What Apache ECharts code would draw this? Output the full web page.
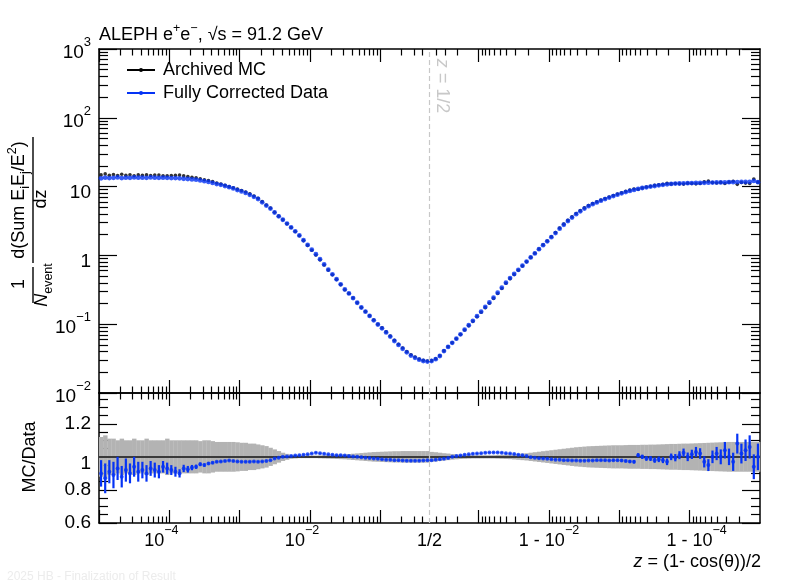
<!DOCTYPE html>
<html><head><meta charset="utf-8">
<script src="https://cdn.jsdelivr.net/npm/echarts@6/dist/echarts.min.js"></script>
<style>html,body{margin:0;padding:0;background:#fff}#c{width:810px;height:587px}</style>
</head><body><div id="c"></div>
<script>
// ---------------- data ----------------
const N_BINS = 80;          // bins per half (log-uniform in z and in 1-z)
const Z_MIN = 1e-5;

// Fully corrected data, z < 1/2 (left half), bin by bin
const leftData = [13.2,13.5,13.3,13.4,13.6,13.3,13.5,13.4,13.6,13.5,
 13.5,13.4,13.6,13.5,13.4,13.5,13.4,13.3,13.3,13.2,
 13.0,12.9,12.7,12.6,12.3,12.0,11.7,11.3,10.9,10.6,
 10.2,9.8,9.4,8.9,8.5,8.1,7.6,7.1,6.6,5.9,
 5.3,4.8,4.2,3.7,3.3,2.9,2.55,2.24,1.95,1.66,
 1.42,1.21,1.04,0.88,0.74,0.62,0.53,0.45,0.38,0.32,
 0.28,0.24,0.205,0.175,0.152,0.132,0.114,0.099,0.087,0.076,
 0.066,0.057,0.050,0.044,0.039,0.035,0.0325,0.0305,0.0292,0.0286];
// Fully corrected data, z > 1/2 (right half), from 1-z = 1/2 down to 1e-5
const rightData = [0.0292,0.0310,0.0345,0.0407,0.0468,0.0537,0.0617,0.0713,0.0832,0.0966,
 0.112,0.131,0.152,0.178,0.207,0.243,0.287,0.339,0.402,0.468,
 0.537,0.617,0.708,0.813,0.933,1.07,1.23,1.41,1.60,1.84,
 2.11,2.45,2.79,3.16,3.55,3.98,4.37,4.79,5.19,5.56,
 5.89,6.24,6.58,6.92,7.28,7.62,7.98,8.32,8.65,8.95,
 9.25,9.55,9.77,10.0,10.2,10.45,10.6,10.8,10.95,11.05,
 11.1,11.15,11.2,11.25,11.3,11.3,11.35,11.4,11.45,11.5,
 11.5,11.55,11.6,11.6,11.65,11.7,11.7,11.75,12.1,11.6];
// Archived MC
const leftMC = [14.8,15.3,14.6,15.0,14.5,15.1,14.6,14.9,14.4,14.8,
 14.6,14.9,14.5,14.7,14.7,14.4,14.4,14.5,14.6,14.7,
 14.3,14.0,13.7,13.4,13.0,12.6,12.25,11.8,11.3,10.9,
 10.45,10.0,9.64,9.18,8.76,8.35,7.84,7.3,6.77,6.05,
 5.41,4.87,4.24,3.72,3.3,2.89,2.54,2.22,1.93,1.64,
 1.40,1.19,1.015,0.861,0.727,0.611,0.524,0.446,0.376,0.317,
 0.279,0.240,0.205,0.175,0.153,0.133,0.115,0.100,0.0883,0.0773,
 0.0672,0.0582,0.0511,0.0450,0.0399,0.0359,0.0333,0.0312,0.0298,0.0292];
const rightMC = [0.0296,0.0314,0.0348,0.0410,0.0469,0.0537,0.0614,0.0707,0.0822,0.0952,
 0.110,0.128,0.149,0.174,0.202,0.237,0.279,0.331,0.393,0.459,
 0.528,0.609,0.701,0.809,0.935,1.075,1.24,1.424,1.62,1.868,
 2.146,2.495,2.847,3.224,3.63,4.07,4.473,4.903,5.307,5.685,
 6.01,6.367,6.721,7.076,7.429,7.776,8.16,8.533,8.899,9.227,
 9.158,9.55,9.869,10.1,10.41,10.61,10.82,11.13,10.95,11.11,
 10.99,10.88,11.2,11.08,10.97,11.08,11.7,12.0,11.45,11.27,
 11.5,11.1,11.6,11.96,10.79,11.47,11.25,11.08,12.87,11.6];
// ratio panel: blue points and their errors
const leftRatio = [0.90,0.87,0.91,0.89,0.93,0.88,0.92,0.90,0.94,0.91,
 0.92,0.90,0.93,0.92,0.91,0.94,0.93,0.92,0.91,0.90,
 0.93,0.925,0.935,0.94,0.955,0.95,0.96,0.965,0.97,0.972,
 0.975,0.978,0.975,0.972,0.97,0.97,0.97,0.972,0.97,0.972,
 0.975,0.98,0.99,0.995,1.0,1.002,1.005,1.008,1.01,1.012,
 1.015,1.02,1.025,1.022,1.018,1.015,1.012,1.01,1.01,1.008,
 1.005,1.002,1.0,0.998,0.995,0.993,0.99,0.988,0.985,0.983,
 0.982,0.98,0.979,0.978,0.977,0.976,0.976,0.977,0.978,0.98];
const rightRatio = [0.98,0.982,0.985,0.988,0.993,1.0,1.005,1.008,1.012,1.015,
 1.018,1.02,1.022,1.025,1.026,1.027,1.027,1.025,1.022,1.02,
 1.017,1.013,1.01,1.005,0.998,0.995,0.992,0.99,0.988,0.985,
 0.983,0.982,0.98,0.98,0.978,0.978,0.977,0.977,0.978,0.978,
 0.98,0.98,0.979,0.978,0.98,0.98,0.978,0.975,0.972,0.97,
 1.01,1.0,0.99,0.99,0.98,0.985,0.98,0.97,1.0,0.995,
 1.01,1.025,1.0,1.015,1.03,1.02,0.97,0.95,1.0,1.02,
 1.0,1.04,1.0,0.97,1.08,1.02,1.04,1.06,0.94,1.0];
const leftRatioErr = [0.08,0.09,0.07,0.08,0.07,0.065,0.07,0.06,0.06,0.06,
 0.05,0.05,0.045,0.045,0.04,0.035,0.035,0.03,0.03,0.025,
 0.022,0.02,0.016,0.013,0.011,0.01,0.008,0.007,0.006,0.006,
 0.005,0.005,0.005,0.005,0.005,0.005,0.005,0.005,0.005,0.005,
 0.004,0.004,0.004,0.004,0.004,0.004,0.004,0.004,0.004,0.004,
 0.004,0.004,0.004,0.004,0.004,0.004,0.004,0.004,0.004,0.004,
 0.004,0.004,0.004,0.004,0.004,0.004,0.004,0.004,0.004,0.004,
 0.004,0.004,0.004,0.004,0.004,0.004,0.004,0.004,0.004,0.004];
const rightRatioErr = [0.004,0.004,0.004,0.004,0.004,0.004,0.004,0.004,0.004,0.004,
 0.004,0.004,0.004,0.004,0.004,0.004,0.004,0.004,0.004,0.004,
 0.004,0.004,0.004,0.004,0.004,0.004,0.004,0.004,0.004,0.004,
 0.004,0.004,0.004,0.004,0.004,0.004,0.004,0.004,0.004,0.004,
 0.005,0.005,0.006,0.006,0.007,0.007,0.008,0.008,0.009,0.01,
 0.012,0.013,0.014,0.015,0.016,0.017,0.018,0.02,0.02,0.022,
 0.024,0.025,0.026,0.028,0.03,0.032,0.034,0.036,0.038,0.04,
 0.045,0.05,0.05,0.055,0.06,0.06,0.065,0.07,0.075,0.08];
// grey MC uncertainty band (half width around 1)
const leftBand = [0.12,0.13,0.11,0.11,0.10,0.11,0.10,0.10,0.11,0.10,
 0.10,0.11,0.10,0.10,0.10,0.10,0.11,0.10,0.10,0.10,
 0.10,0.10,0.10,0.10,0.095,0.10,0.10,0.095,0.09,0.09,
 0.09,0.09,0.09,0.088,0.085,0.085,0.08,0.08,0.075,0.07,
 0.065,0.055,0.045,0.035,0.025,0.018,0.012,0.01,0.008,0.008,
 0.008,0.008,0.008,0.009,0.01,0.011,0.012,0.013,0.014,0.015,
 0.017,0.019,0.021,0.023,0.025,0.027,0.029,0.03,0.031,0.032,
 0.033,0.034,0.034,0.035,0.035,0.035,0.035,0.035,0.035,0.035];
const rightBand = [0.03,0.028,0.025,0.022,0.02,0.017,0.015,0.013,0.012,0.011,
 0.01,0.01,0.01,0.01,0.01,0.01,0.011,0.012,0.013,0.014,
 0.016,0.018,0.02,0.022,0.025,0.028,0.031,0.034,0.037,0.04,
 0.043,0.046,0.049,0.052,0.055,0.058,0.06,0.062,0.064,0.065,
 0.066,0.067,0.068,0.069,0.07,0.07,0.07,0.071,0.072,0.072,
 0.072,0.073,0.073,0.074,0.074,0.075,0.076,0.077,0.078,0.078,
 0.079,0.08,0.08,0.081,0.082,0.083,0.084,0.085,0.086,0.087,
 0.088,0.089,0.09,0.09,0.09,0.09,0.09,0.09,0.09,0.09];

const yTickLabels = {'3':['10','3'],'2':['10','2'],'1':['10',''],'0':['1',''],'-1':['10','\u22121'],'-2':['10','\u22122']};
const ratioTickLabels = [0.6,0.8,1.0,1.2];

// ---------------- axis geometry (symmetric log axis around z = 1/2) ----------------
const H = Math.log10(0.5);
const T_MIN = Math.log10(Z_MIN);
const T_MAX = 2 * H - Math.log10(Z_MIN);
const BIN_W = (H - T_MIN) / N_BINS;
function zToAxis(z) { return z <= 0.5 ? Math.log10(z) : 2 * H - Math.log10(1 - z); }
const zCenters = [];
for (let i = 0; i < N_BINS; i++) zCenters.push(Math.pow(10, T_MIN + (i + 0.5) * BIN_W));
for (let j = 0; j < N_BINS; j++) zCenters.push(1 - Math.pow(10, H - (j + 0.5) * BIN_W));
const tCenters = zCenters.map(zToAxis);

const dataAll = leftData.concat(rightData);
const mcAll = leftMC.concat(rightMC);
const ratioAll = leftRatio.concat(rightRatio);
const ratioErrAll = leftRatioErr.concat(rightRatioErr);
const bandAll = leftBand.concat(rightBand);

// ticks
const xMajor = [], xMinor = [];
for (let n = -5; n <= -1; n++) { xMajor.push(n); for (let k = 2; k <= 9; k++) { if (k * Math.pow(10, n) < 0.5) xMinor.push(n + Math.log10(k)); } }
for (let n = 1; n <= 5; n++) { if (n < 5) xMajor.push(2 * H + n); for (let k = 2; k <= 9; k++) { if (k * Math.pow(10, -n) < 0.5) xMinor.push(2 * H + n - Math.log10(k)); } }
const xLabelVals = [-4, -2, H, 2 * H + 2, 2 * H + 4];
const yMajor = [-2, -1, 0, 1, 2, 3], yMinor = [];
for (let n = -2; n <= 2; n++) for (let k = 2; k <= 9; k++) yMinor.push(n + Math.log10(k));
const rMajor = [0.6, 0.8, 1.0, 1.2];
const rMinor = [0.65, 0.7, 0.75, 0.85, 0.9, 0.95, 1.05, 1.1, 1.15, 1.25, 1.3, 1.35];

const FF = 'Liberation Sans, Arial, Helvetica, sans-serif';
const BLUE = '#0533f5';
const GRAY_DASH = '#c8c8c8';
const R_MIN = 0.6, R_MAX = 1.386;

const TICK_RICH = {
  b: {fontSize: 19, fontFamily: FF, color: '#000', lineHeight: 26, verticalAlign: 'bottom'},
  lo: {fontSize: 19, fontFamily: FF, color: '#000', lineHeight: 32, verticalAlign: 'bottom'},
  s: {fontSize: 13, fontFamily: FF, color: '#000', verticalAlign: 'top'},
  p: {fontSize: 19, fontFamily: FF, color: '#000'},
  one: {fontSize: 19, fontFamily: FF, color: '#000', lineHeight: 33, verticalAlign: 'bottom'},
  xb: {fontSize: 18, fontFamily: FF, color: '#000', lineHeight: 26, verticalAlign: 'bottom'},
  xs: {fontSize: 12.5, fontFamily: FF, color: '#000', verticalAlign: 'top'},
  pr: {width: 16, fontSize: 10},
  pl: {width: 14, fontSize: 10}
};

function near(a, b) { return Math.abs(a - b) < 1e-6; }

function xAx(grid, pos, ticks, len, line, labels) {
  const ax = {
    type: 'value', gridIndex: grid, position: pos, min: T_MIN, max: T_MAX,
    axisLine: {show: line, onZero: false, lineStyle: {color: '#000', width: 1.5}},
    axisTick: {show: true, inside: true, length: len, customValues: ticks, lineStyle: {color: '#000', width: 1.2}},
    axisLabel: {show: false},
    splitLine: {show: false}
  };
  if (labels) {
    ax.axisLabel = {
      show: true, customValues: xLabelVals, margin: 1, rich: TICK_RICH,
      formatter: function (v) {
        if (near(v, -4)) return '{xb|10}{xs|\u22124}{pr|\u00a0}';
        if (near(v, -2)) return '{xb|10}{xs|\u22122}{pr|\u00a0}';
        if (near(v, H)) return '{xb|1/2}';
        if (near(v, 2 * H + 2)) return '{xb|1 - 10}{xs|\u22122}';
        if (near(v, 2 * H + 4)) return '{pl|\u00a0}{xb|1 - 10}{xs|\u22124}';
        return '';
      }
    };
  }
  return ax;
}
function yAx(grid, pos, min, max, ticks, len, line, labelFn, labelVals) {
  const ax = {
    type: 'value', gridIndex: grid, position: pos, min: min, max: max,
    axisLine: {show: line, onZero: false, lineStyle: {color: '#000', width: 1.5}},
    axisTick: {show: true, inside: true, length: len, customValues: ticks, lineStyle: {color: '#000', width: 1.2}},
    axisLabel: {show: false},
    splitLine: {show: false}
  };
  if (labelFn) ax.axisLabel = {show: true, customValues: labelVals, margin: 8, rich: TICK_RICH, formatter: labelFn};
  return ax;
}

const topLabel = function (v) {
  const k = String(Math.round(v));
  const p = yTickLabels[k];
  if (!p) return '';
  if (p[1] === '') return '{lo|' + p[0] + '}';
  return '{b|' + p[0] + '}{s|' + p[1] + '}';
};
const ratioLabel = function (v) {
  if (near(v, 1)) return '{one|1}';
  return '{p|' + (Math.round(v * 10) / 10).toFixed(1) + '}';
};

const TXT_RICH = {
  b: {fontSize: 18, fontFamily: FF, fill: '#000', lineHeight: 26, verticalAlign: 'middle'},
  it: {fontSize: 18, fontFamily: FF, fontStyle: 'italic', fill: '#000', lineHeight: 26, verticalAlign: 'middle'},
  sp: {fontSize: 12.5, fontFamily: FF, fill: '#000', verticalAlign: 'top'},
  sb: {fontSize: 12.5, fontFamily: FF, fill: '#000', verticalAlign: 'bottom'}
};
const GRAY_RICH = {
  it: {fontSize: 18, fontFamily: FF, fontStyle: 'italic', fill: GRAY_DASH},
  b: {fontSize: 18, fontFamily: FF, fill: GRAY_DASH}
};

const chart = echarts.init(document.getElementById('c'), null, {renderer: 'canvas'});
const option = {
  animation: false,
  backgroundColor: '#fff',
  textStyle: {fontFamily: FF},
  grid: [
    {left: 99, top: 49, width: 661, height: 344},
    {left: 99, top: 393, width: 661, height: 130}
  ],
  xAxis: [
    xAx(0, 'bottom', xMajor, 13, true, false),
    xAx(0, 'bottom', xMinor, 6.5, false, false),
    xAx(0, 'top', xMajor, 13, true, false),
    xAx(0, 'top', xMinor, 6.5, false, false),
    xAx(1, 'bottom', xMajor, 13, true, true),
    xAx(1, 'bottom', xMinor, 6.5, false, false),
    xAx(1, 'top', xMajor, 13, true, false),
    xAx(1, 'top', xMinor, 6.5, false, false)
  ],
  yAxis: [
    {type: 'log', logBase: 10, gridIndex: 0, min: 0.01, max: 1000, show: false},
    yAx(0, 'left', -2, 3, yMajor, 18, true, topLabel, yMajor),
    yAx(0, 'left', -2, 3, yMinor, 9, false),
    yAx(0, 'right', -2, 3, yMajor, 18, true),
    yAx(0, 'right', -2, 3, yMinor, 9, false),
    yAx(1, 'left', R_MIN, R_MAX, rMajor, 18, true, ratioLabel, ratioTickLabels),
    yAx(1, 'left', R_MIN, R_MAX, rMinor, 9, false),
    yAx(1, 'right', R_MIN, R_MAX, rMajor, 18, true),
    yAx(1, 'right', R_MIN, R_MAX, rMinor, 9, false)
  ],
  series: [
    {
      type: 'scatter', xAxisIndex: 0, yAxisIndex: 0, silent: true, z: 2,
      symbol: 'circle', symbolSize: 3.6, itemStyle: {color: '#000'},
      data: tCenters.map((t, k) => [t, mcAll[k]]),
      markLine: {silent: true, symbol: 'none', label: {show: false},
        lineStyle: {color: GRAY_DASH, type: [5, 3], width: 1.2},
        data: [{xAxis: H}]}
    },
    {
      type: 'scatter', xAxisIndex: 0, yAxisIndex: 0, silent: true, z: 3,
      symbol: 'circle', symbolSize: 4.8, itemStyle: {color: BLUE},
      data: tCenters.map((t, k) => [t, dataAll[k]])
    },
    {
      type: 'custom', xAxisIndex: 4, yAxisIndex: 5, silent: true, z: 1,
      data: tCenters.map((t, k) => [t, bandAll[k]]),
      encode: {x: 0, y: 1},
      renderItem: function (params, api) {
        const t = api.value(0), e = api.value(1);
        const p1 = api.coord([t - BIN_W / 2, 1 + e]);
        const p2 = api.coord([t + BIN_W / 2, 1 - e]);
        return {type: 'rect', shape: {x: p1[0], y: p1[1], width: p2[0] - p1[0] + 0.3, height: p2[1] - p1[1]},
          style: {fill: '#b3b3b3'}};
      },
      markLine: {silent: true, symbol: 'none', label: {show: false}, z: 2,
        data: [
          {yAxis: 1, lineStyle: {color: '#3a3a3a', width: 2, type: 'solid'}},
          {xAxis: H, lineStyle: {color: GRAY_DASH, width: 1.2, type: [5, 3]}}
        ]}
    },
    {
      type: 'custom', xAxisIndex: 4, yAxisIndex: 5, silent: true, z: 4,
      data: tCenters.map((t, k) => [t, ratioAll[k], ratioErrAll[k]]),
      encode: {x: 0, y: 1},
      renderItem: function (params, api) {
        const t = api.value(0), r = api.value(1), e = api.value(2);
        const a = api.coord([t, Math.min(r + e, R_MAX)]);
        const b = api.coord([t, Math.max(r - e, R_MIN)]);
        return {type: 'line', shape: {x1: a[0], y1: a[1], x2: b[0], y2: b[1]},
          style: {stroke: BLUE, lineWidth: 2.2}};
      }
    },
    {
      type: 'scatter', xAxisIndex: 4, yAxisIndex: 5, silent: true, z: 5,
      symbol: 'circle', symbolSize: 4, itemStyle: {color: BLUE},
      data: tCenters.map((t, k) => [t, ratioAll[k]])
    }
  ],
  graphic: [
    // title
    {type: 'text', x: 99, y: 35, style: {text: '{b|ALEPH e}{sp|+}{b|e}{sp|\u2212}{b|, \u221As = 91.2 GeV}', rich: TXT_RICH, align: 'left', verticalAlign: 'middle'}},
    // legend
    {type: 'line', shape: {x1: 127, y1: 70, x2: 155, y2: 70}, style: {stroke: '#000', lineWidth: 2}},
    {type: 'circle', shape: {cx: 141, cy: 70, r: 2}, style: {fill: '#000'}},
    {type: 'text', x: 163, y: 70, style: {text: 'Archived MC', font: '18px ' + FF, fill: '#000', align: 'left', verticalAlign: 'middle'}},
    {type: 'line', shape: {x1: 127, y1: 93, x2: 155, y2: 93}, style: {stroke: BLUE, lineWidth: 2}},
    {type: 'circle', shape: {cx: 141, cy: 93, r: 2}, style: {fill: BLUE}},
    {type: 'text', x: 163, y: 93, style: {text: 'Fully Corrected Data', font: '18px ' + FF, fill: '#000', align: 'left', verticalAlign: 'middle'}},
    // z = 1/2 annotation
    {type: 'text', x: 442, y: 86, rotation: -Math.PI / 2, style: {text: '{it|z}{b| = 1/2}', rich: GRAY_RICH, fill: GRAY_DASH, align: 'center', verticalAlign: 'middle'}},
    // y-axis title of the top panel
    {type: 'text', x: 19, y: 200, rotation: Math.PI / 2, style: {text: '{b|d(Sum E}{sb|i}{b|E}{sb|j}{b|/E}{sp|2}{b|)}', rich: TXT_RICH, align: 'center', verticalAlign: 'middle'}},
    {type: 'line', shape: {x1: 33, y1: 137, x2: 33, y2: 263}, style: {stroke: '#000', lineWidth: 1.4}},
    {type: 'text', x: 41, y: 199, rotation: Math.PI / 2, style: {text: '{b|dz}', rich: TXT_RICH, align: 'center', verticalAlign: 'middle'}},
    {type: 'text', x: 19, y: 284, rotation: Math.PI / 2, style: {text: '{b|1}', rich: TXT_RICH, align: 'center', verticalAlign: 'middle'}},
    {type: 'line', shape: {x1: 33, y1: 267, x2: 33, y2: 303}, style: {stroke: '#000', lineWidth: 1.4}},
    {type: 'text', x: 42, y: 285, rotation: Math.PI / 2, style: {text: '{it|N}{sb|event}', rich: TXT_RICH, align: 'center', verticalAlign: 'middle'}},
    // ratio y title
    {type: 'text', x: 30, y: 457, rotation: Math.PI / 2, style: {text: 'MC/Data', font: '18px ' + FF, fill: '#000', align: 'center', verticalAlign: 'middle'}},
    // x-axis title
    {type: 'text', x: 761, y: 562, style: {text: '{it|z}{b| = (1- cos(\u03B8))/2}', rich: TXT_RICH, align: 'right', verticalAlign: 'middle'}},
    // watermark
    {type: 'text', x: 7, y: 577, style: {text: '2025 HB - Finalization of Result', font: '12px ' + FF, fill: '#ececec', align: 'left', verticalAlign: 'middle'}}
  ]
};
chart.setOption(option);
</script>
</body></html>
